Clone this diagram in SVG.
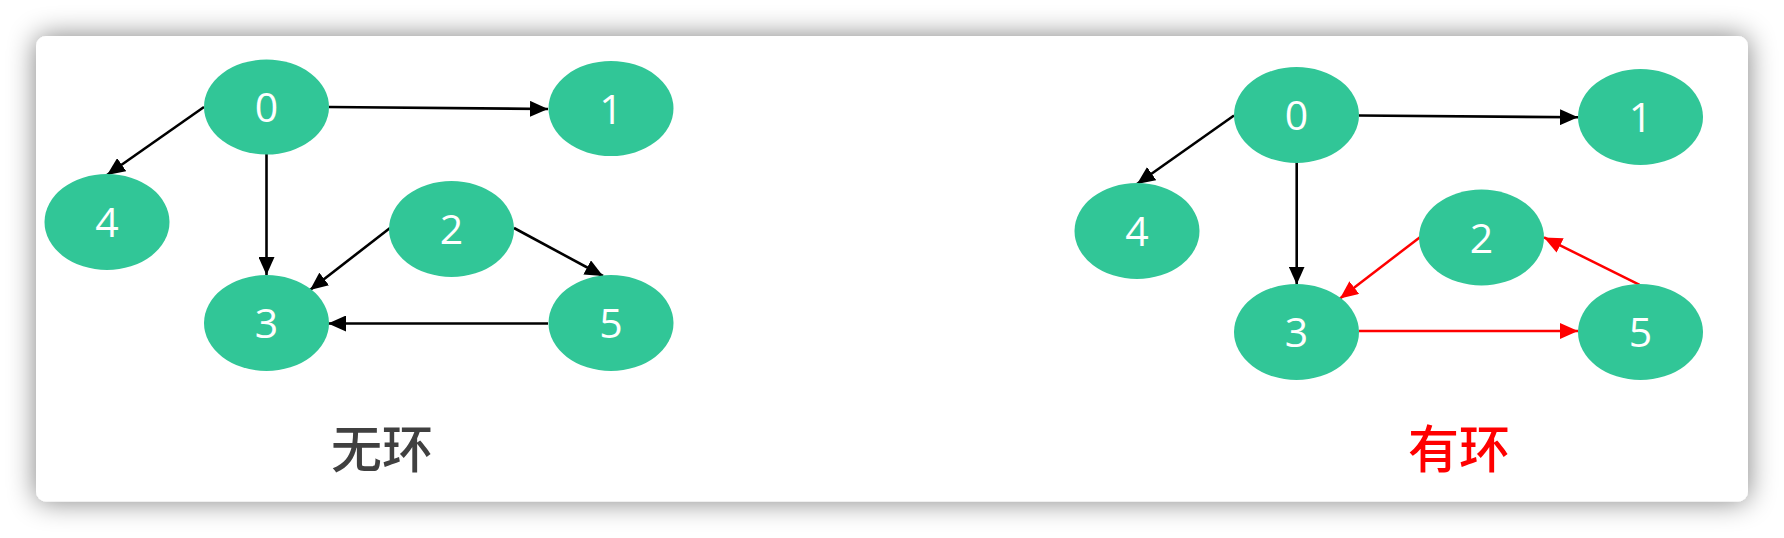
<svg xmlns="http://www.w3.org/2000/svg" width="1784" height="538" viewBox="0 0 1784 538">
<style>
.node ellipse{fill:#31C697}
.node text{fill:#ffffff;font-family:"Open Sans","Noto Sans",sans-serif;font-size:41px;text-anchor:middle}
.e{stroke:#000;stroke-width:2.6;fill:none;marker-end:url(#ab)}
.r{stroke:#ff0000;stroke-width:2.5;fill:none;marker-end:url(#ar)}
.lbl{font-family:"Noto Sans CJK SC",sans-serif;font-size:51px;font-weight:500;text-anchor:middle}
</style>
<defs>
<filter id="sh" x="-10%" y="-30%" width="120%" height="160%">
<feGaussianBlur in="SourceAlpha" stdDeviation="14"/>
<feComponentTransfer><feFuncA type="linear" slope="0.5"/></feComponentTransfer>
<feMerge><feMergeNode/><feMergeNode in="SourceGraphic"/></feMerge>
</filter>
<marker id="ab" viewBox="0 0 18 16" refX="18" refY="8" markerWidth="18" markerHeight="16" markerUnits="userSpaceOnUse" orient="auto"><path d="M0,0L18,8L0,16z" fill="#000"/></marker>
<marker id="ar" viewBox="0 0 18 16" refX="18" refY="8" markerWidth="18" markerHeight="16" markerUnits="userSpaceOnUse" orient="auto"><path d="M0,0L18,8L0,16z" fill="#ff0000"/></marker>
</defs>
<rect width="1784" height="538" fill="#ffffff"/>
<rect x="36" y="36" width="1712" height="465.5" rx="10" fill="#ffffff" filter="url(#sh)"/>
<g id="connectors">
<line class="e" x1="329" y1="107" x2="548" y2="109"/>
<line class="e" x1="204" y1="107" x2="107" y2="175"/>
<line class="e" x1="266.5" y1="154" x2="266.5" y2="275"/>
<line class="e" x1="390" y1="228" x2="310" y2="290"/>
<line class="e" x1="514" y1="228" x2="603" y2="276"/>
<line class="e" x1="548" y1="323.5" x2="328" y2="323.5"/>
<line class="e" x1="1359" y1="115.5" x2="1578" y2="117.3"/>
<line class="e" x1="1234" y1="115.5" x2="1137" y2="184"/>
<line class="e" x1="1296.7" y1="162" x2="1296.7" y2="284.5"/>
<line class="r" x1="1420.6" y1="236.7" x2="1340" y2="298.5"/>
<line class="r" x1="1359" y1="331" x2="1578" y2="331"/>
<line class="r" x1="1639.6" y1="284.8" x2="1544" y2="237.4"/>
</g>
<g id="L0" class="node"><ellipse cx="266.5" cy="107" rx="62.5" ry="47.5"/><text x="266.5" y="122">0</text></g>
<g id="L1" class="node"><ellipse cx="611" cy="108.5" rx="62.5" ry="47.5"/><text x="611" y="123.5">1</text></g>
<g id="L4" class="node"><ellipse cx="107" cy="222" rx="62.5" ry="48"/><text x="107" y="237">4</text></g>
<g id="L2" class="node"><ellipse cx="451.5" cy="229" rx="62.5" ry="48"/><text x="451.5" y="244">2</text></g>
<g id="L3" class="node"><ellipse cx="266.5" cy="323" rx="62.5" ry="48"/><text x="266.5" y="338">3</text></g>
<g id="L5" class="node"><ellipse cx="611" cy="323" rx="62.5" ry="48"/><text x="611" y="338">5</text></g>
<g id="R0" class="node"><ellipse cx="1296.5" cy="115" rx="62.5" ry="48"/><text x="1296.5" y="130">0</text></g>
<g id="R1" class="node"><ellipse cx="1640.5" cy="117" rx="62.5" ry="48"/><text x="1640.5" y="132">1</text></g>
<g id="R4" class="node"><ellipse cx="1137" cy="231" rx="62.5" ry="48"/><text x="1137" y="246">4</text></g>
<g id="R2" class="node"><ellipse cx="1481.5" cy="237.5" rx="62.5" ry="48"/><text x="1481.5" y="252.5">2</text></g>
<g id="R3" class="node"><ellipse cx="1296.5" cy="332" rx="62.5" ry="48"/><text x="1296.5" y="347">3</text></g>
<g id="R5" class="node"><ellipse cx="1640.5" cy="332" rx="62.5" ry="48"/><text x="1640.5" y="347">5</text></g>
<text class="lbl" x="382" y="468" fill="#404040">无环</text>
<text class="lbl" x="1459" y="468" fill="#ff0000">有环</text>
</svg>
